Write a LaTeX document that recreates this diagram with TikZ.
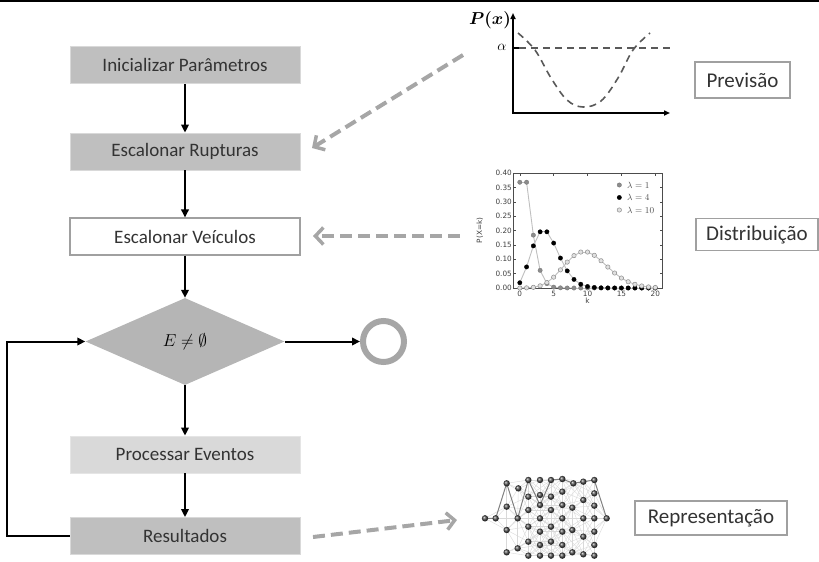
\documentclass[tikz,border=0pt]{standalone}
\usepackage{amsmath,amssymb,bm}
\usepackage{fontspec}
\setmainfont{Carlito}
\newfontfamily\plotfont{DejaVu Sans}
\usetikzlibrary{arrows.meta,shapes.geometric}

\definecolor{boxgray}{HTML}{BFBFBF}
\definecolor{lightbox}{HTML}{D9D9D9}
\definecolor{linkgray}{HTML}{A6A6A6}
\definecolor{txt}{HTML}{333333}
\definecolor{framegray}{HTML}{A0A0A0}

\tikzset{
  flowbox/.style={rectangle, minimum width=230pt, minimum height=37pt, inner sep=0pt,
    font=\fontsize{19}{21}\selectfont, text=txt},
  darkbox/.style={flowbox, fill=boxgray, draw=gray!30, line width=0.8pt},
  palebox/.style={flowbox, fill=lightbox, draw=gray!20, line width=0.8pt},
  openbox/.style={flowbox, fill=white, draw=framegray, line width=1.1pt},
  tagbox/.style={rectangle, draw=framegray, line width=1.1pt, fill=white, inner sep=0pt,
    font=\fontsize{21}{23}\selectfont, text=txt},
  flow/.style={line width=2pt, -{Triangle[length=8pt,width=7.5pt]}},
  feed/.style={draw=linkgray, line width=4pt, dash pattern=on 12pt off 6pt,
    -{Straight Barb[length=8pt,width=17pt,line width=3.5pt]}},
  web/.style={draw=black!15, line width=0.4pt},
  axisline/.style={line width=1.6pt, {Triangle[length=6pt,width=5pt]}-{Triangle[length=6pt,width=5pt]}},
  curve/.style={draw=black!65, line width=1.6pt, dash pattern=on 7pt off 5pt},
  tick/.style={font=\plotfont\fontsize{7.3}{8}\selectfont, text=black!75, inner sep=1pt},
  serA/.style={fill=black!45, draw=black!55, line width=0.3pt},
  serB/.style={fill=black, draw=black, line width=0.3pt},
  serC/.style={fill=black!12, draw=black!45, line width=0.5pt},
  serline/.style={draw=black!25, line width=0.9pt},
  ballnode/.style={ball color=black!70},
}

\begin{document}
\begin{tikzpicture}[x=1pt,y=-1pt]
\useasboundingbox (0,0) rectangle (819,562);

% rule across the top
\draw[line width=2pt] (0,1) -- (819,1);

% ---------------- flow chart ----------------
\node[darkbox] (init) at (185,65)    {Inicializar Parâmetros};
\node[darkbox] (rupt) at (185,151.5) {Escalonar Rupturas};
\node[openbox] (veic) at (185,236.5) {Escalonar Veículos};
\node[diamond, fill=boxgray!95!black, minimum width=199pt, minimum height=87pt, inner sep=0pt,
      font=\fontsize{18}{20}\selectfont] (cond) at (185,341.5) {$E\neq\emptyset$};
\node[palebox] (proc) at (185,454.5) {Processar Eventos};
\node[darkbox] (res)  at (185,536)   {Resultados};
\node[circle, draw=linkgray, line width=6pt, minimum size=41pt, inner sep=0pt] (stop) at (383.5,341.5) {};

\draw[flow] (init) -- (rupt);
\draw[flow] (rupt) -- (veic);
\draw[flow] (veic) -- (cond);
\draw[flow] (cond.south) -- (proc.north);
\draw[flow] (proc) -- (res);
\draw[flow] (cond.east) -- (stop.west);
\coordinate (loopA) at (7,536);
\coordinate (loopB) at (7,341.5);
\draw[flow] (res.west) -- (loopA) -- (loopB) -- (cond.west);

% ---------------- side labels ----------------
\node[tagbox, minimum width=95pt, minimum height=36pt]  (prev) at (742.5,80)  {Previsão};
\node[tagbox, minimum width=122pt, minimum height=32pt] (dist) at (757,234.5) {Distribuição};
\node[tagbox, minimum width=152pt, minimum height=34pt] (repr) at (711,518)   {Representação};

% ---------------- feeding arrows ----------------
\coordinate (fa) at (463,55);   \coordinate (fb) at (312,148);
\coordinate (fc) at (460,236);  \coordinate (fd) at (313,236);
\coordinate (fe) at (313,537);  \coordinate (ff) at (457,520);
\draw[feed] (fa) -- (fb);
\draw[feed] (fc) -- (fd);
\draw[feed] (fe) -- (ff);

% ---------------- threshold sketch ----------------
\draw[axisline] (513,13) -- (513,113) -- (670,113);
\draw[line width=1.4pt] (513,48) -- (519,48);
\draw[curve] (519,48) -- (670,48);
\draw[curve] plot[smooth, tension=0.6] coordinates
  {(518,33) (535,50) (551,78) (567,100) (583,107) (601,101) (618,78) (633,50) (650,33)};
\node[font=\fontsize{16}{18}\selectfont] (px) at (490,20) {$\bm{P(x)}$};
\node[font=\fontsize{15}{17}\selectfont] (alpha) at (502,47) {$\alpha$};

% ---------------- Poisson plot ----------------
\begin{scope}[shift={(519.8pt,-288pt)}, x=6.773pt, y=287.5pt]
  \draw[black!70, line width=0.6pt] (-1,0) rectangle (21,0.4);
  \foreach \v/\lab in {0/0.00,0.05/0.05,0.1/0.10,0.15/0.15,0.2/0.20,0.25/0.25,0.3/0.30,0.35/0.35,0.4/0.40}{
    \draw[black!70, line width=0.4pt] (-1,\v) -- ++(2.5pt,0) (21,\v) -- ++(-2.5pt,0);
    \node[tick, anchor=east] (yt\lab) at (-1,\v) {\lab};
  }
  \foreach \k in {0,5,10,15,20}{
    \draw[black!70, line width=0.4pt] (\k,0) -- ++(0,2.5pt) (\k,0.4) -- ++(0,-2.5pt);
    \node[tick, anchor=north, yshift=-1.5pt] (xt\k) at (\k,0) {\k};
  }
  \node[tick] (klab) at (10,-0.045) {k};
  \node[tick, rotate=90] (plab) at (-5.9,0.2) {P(X=k)};

  \def\serA{0/.3679,1/.3679,2/.1839,3/.0613,4/.0153,5/.0031,6/.0005,7/.0001,8/0,9/0,10/0,11/0,12/0,13/0,14/0,15/0,16/0,17/0,18/0,19/0,20/0}
  \def\serB{0/.0183,1/.0733,2/.1465,3/.1954,4/.1954,5/.1563,6/.1042,7/.0595,8/.0298,9/.0132,10/.0053,11/.0019,12/.0006,13/.0002,14/.0001,15/0,16/0,17/0,18/0,19/0,20/0}
  \def\serC{0/0,1/.0005,2/.0023,3/.0076,4/.0189,5/.0378,6/.0631,7/.0901,8/.1126,9/.1251,10/.1251,11/.1137,12/.0948,13/.0729,14/.0521,15/.0347,16/.0217,17/.0128,18/.0071,19/.0037,20/.0019}

  \foreach \k/\v [remember=\k as \pk (initially 0), remember=\v as \pv (initially .3679)] in \serA
    {\draw[serline] (\pk,\pv) -- (\k,\v);}
  \foreach \k/\v [remember=\k as \pk (initially 0), remember=\v as \pv (initially .0183)] in \serB
    {\draw[serline] (\pk,\pv) -- (\k,\v);}
  \foreach \k/\v [remember=\k as \pk (initially 0), remember=\v as \pv (initially 0)] in \serC
    {\draw[serline] (\pk,\pv) -- (\k,\v);}

  \foreach \k/\v in \serA {\filldraw[serA] (\k,\v) circle (2.2pt);}
  \foreach \k/\v in \serB {\filldraw[serB] (\k,\v) circle (2.2pt);}
  \foreach \k/\v in \serC {\filldraw[serC] (\k,\v) circle (2.2pt);}
\end{scope}
% legend
\filldraw[serA] (619.3,185) circle (2.2pt);
\filldraw[serB] (619.3,197.5) circle (2.2pt);
\filldraw[serC] (619.3,210) circle (2.2pt);
\node[anchor=west, inner sep=0pt, font=\fontsize{9}{10}\selectfont, text=black!70] (l1) at (627,185)   {$\lambda = 1$};
\node[anchor=west, inner sep=0pt, font=\fontsize{9}{10}\selectfont, text=black!70] (l2) at (627,197.5) {$\lambda = 4$};
\node[anchor=west, inner sep=0pt, font=\fontsize{9}{10}\selectfont, text=black!70] (l3) at (627,210)   {$\lambda = 10$};

% ---------------- network sketch ----------------
\begin{scope}[shift={(475pt,-465pt)}, x=0.3333pt, y=-0.3333pt]
  \def\netpts{30/160,62/160,95/55,95/125,95/195,95/262,130/70,128/160,128/250,
    160/45,160/95,160/135,160/185,160/230,160/272,
    195/45,195/90,195/120,195/160,195/200,195/240,195/272,
    228/45,228/95,228/135,228/185,228/230,228/272,
    262/42,262/80,262/120,262/160,262/200,262/240,262/272,
    295/55,292/128,292/195,292/262,
    325/50,325/105,325/160,325/215,325/268,
    358/45,358/85,358/122,358/160,358/200,358/240,358/272,395/160}
  \foreach \ax/\ay [count=\i] in \netpts {
    \foreach \bx/\by [count=\j] in \netpts {
      \ifnum\j>\i
        \pgfmathtruncatemacro\near{veclen(\bx-\ax,\by-\ay)<95}
        \ifnum\near=1 \draw[web] (\ax,\ay) -- (\bx,\by); \fi
      \fi
    }
  }
  \draw[black!50, line width=1pt] (30,160) -- (62,160) -- (95,55) -- (128,160) -- (160,45)
     -- (195,120) -- (228,45) -- (262,42) -- (295,55) -- (325,50) -- (358,45) -- (395,160);
  \foreach \ax/\ay in \netpts {\shade[ballnode] (\ax,\ay) circle (3.2pt);}
\end{scope}

\end{tikzpicture}
\end{document}
